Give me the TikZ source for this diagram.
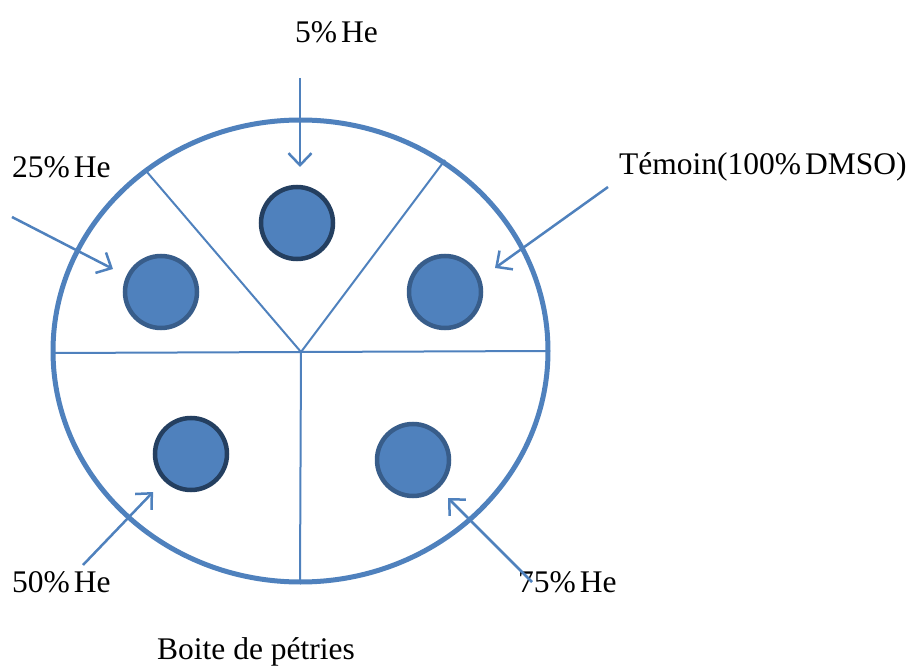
\documentclass[tikz,border=0pt]{standalone}
\usepackage{fontspec}
\setmainfont{Liberation Serif}
\usetikzlibrary{arrows.meta}
\definecolor{petri}{HTML}{4F81BD}
\definecolor{rimdark}{HTML}{243F60}
\definecolor{rimmid}{HTML}{385D8A}
\newcommand{\pgap}{\hspace{4pt}}
\tikzset{
  lbl/.style={inner sep=0pt, anchor=west, font=\fontsize{31.5}{36}\selectfont},
  dish/.style={circle, fill=petri, line width=4.5pt, minimum size=72pt, inner sep=0pt},
  divider/.style={draw=petri, line width=2pt},
  pointer/.style={draw=petri, line width=2.5pt, -{Straight Barb[length=12pt,width=23pt]}}
}
\begin{document}
\begin{tikzpicture}[x=1pt,y=-1pt]
\useasboundingbox (0,0) rectangle (908,668);
% plate
\draw[petri, line width=5pt] (300.5,351) ellipse [x radius=247.5, y radius=231];
\coordinate (c) at (301,352);
\coordinate (L) at (54,353);
\coordinate (R) at (547,351);
\coordinate (B) at (300,581);
\coordinate (UL) at (147,172);
\coordinate (UR) at (445,160);
\draw[divider] (L) -- (c) -- (R);
\draw[divider] (c) -- (B);
\draw[divider] (UL) -- (c) -- (UR);
% dishes
\node[dish, draw=rimdark] (d5) at (297,223) {};
\node[dish, draw=rimmid] (d25) at (161,292) {};
\node[dish, draw=rimmid] (dT) at (445,292) {};
\node[dish, draw=rimdark] (d50) at (191,454) {};
\node[dish, draw=rimmid] (d75) at (413,460) {};
% labels
\node[lbl] (t5) at (295,32) {5\%\pgap He};
\node[lbl] (t25) at (12,167) {25\%\pgap He};
\node[lbl] (tT) at (619,167) {Témoin(100\%\pgap DMSO)};
\node[lbl] (t50) at (12,582) {50\%\pgap He};
\node[lbl] (t75) at (518,582) {75\%\pgap He};
\node[lbl] (cap) at (157,652) {Boite de pétries};
% arrows
\coordinate (a5s) at (300,78);   \coordinate (a5e) at (300,167);
\coordinate (a25s) at (12,217);  \coordinate (a25e) at (113,269);
\coordinate (aTs) at (608,187);  \coordinate (aTe) at (495,268);
\coordinate (a50s) at (83,565);  \coordinate (a50e) at (153,492);
\coordinate (a75s) at (532,582); \coordinate (a75e) at (448,498);
\draw[pointer] (a5s) -- (a5e);
\draw[pointer] (a25s) -- (a25e);
\draw[pointer] (aTs) -- (aTe);
\draw[pointer] (a50s) -- (a50e);
\draw[pointer] (a75s) -- (a75e);
\end{tikzpicture}
\end{document}
